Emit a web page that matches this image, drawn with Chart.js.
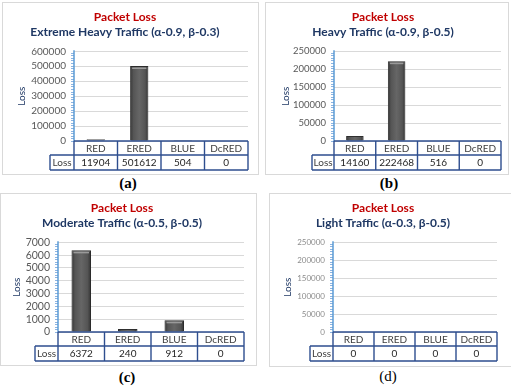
<!DOCTYPE html>
<html>
<head>
<meta charset="utf-8">
<script src="https://cdn.jsdelivr.net/npm/chart.js@4/dist/chart.umd.min.js"></script>
<style>
  body { margin:0; background:#fff; width:511px; height:389px; position:relative; overflow:hidden; }
  canvas { position:absolute; }
  .box { position:absolute; border:1px solid #d9d9d9; box-sizing:border-box; pointer-events:none; }
  .lab { position:absolute; width:60px; text-align:center; font-family:"Liberation Serif", serif; font-size:15px; color:#000; }
</style>
</head>
<body>
<div class="box" style="left:2px;top:2px;width:257px;height:173px"></div>
<div class="box" style="left:265px;top:2px;width:244px;height:173px"></div>
<div class="box" style="left:0px;top:193px;width:257px;height:173px"></div>
<div class="box" style="left:269px;top:193px;width:250px;height:174px"></div>
<canvas id="ca" width="257" height="173" style="left:2px;top:2px"></canvas>
<canvas id="cb" width="244" height="173" style="left:265px;top:2px"></canvas>
<canvas id="cc" width="257" height="173" style="left:0px;top:193px"></canvas>
<canvas id="cd" width="242" height="174" style="left:269px;top:193px"></canvas>
<div class="lab" style="left:98px;top:175px;font-weight:bold">(a)</div>
<div class="lab" style="left:359px;top:175px;font-weight:bold">(b)</div>
<div class="lab" style="left:97px;top:369px;font-weight:bold">(c)</div>
<div class="lab" style="left:358px;top:368px">(d)</div>
<script>
const categories = ["RED", "ERED", "BLUE", "DcRED"]
const lossExtreme = [11904, 501612, 504, 0]
const lossHeavy = [14160, 222468, 516, 0]
const lossModerate = [6372, 240, 912, 0]
const lossLight = [0, 0, 0, 0]
const rowLabel = "Loss"

const ticksExtreme = { max: 600000, step: 100000 }
const ticksHeavy = { max: 250000, step: 50000 }
const ticksModerate = { max: 7000, step: 1000 }
const ticksLight = { max: 250000, step: 50000 }

const FONT = "Lato"
const navy = "#1f3864"
const tableBlue = "#2e4e8f"

// bar shading + y axis ruler + data table under the plot
const decoPlugin = {
  id: "deco",
  afterDatasetsDraw(chart) {
    const ctx = chart.ctx
    chart.getDatasetMeta(0).data.forEach((bar) => {
      const h = bar.base - bar.y
      if (h < 1) return
      const x0 = bar.x - bar.width / 2
      const g = ctx.createLinearGradient(x0, 0, x0 + bar.width, 0)
      g.addColorStop(0, "#333333")
      g.addColorStop(0.18, "#555555")
      g.addColorStop(0.5, "#666666")
      g.addColorStop(0.82, "#555555")
      g.addColorStop(1, "#333333")
      ctx.save()
      ctx.fillStyle = g
      ctx.fillRect(x0 + 1, bar.y + 1, bar.width - 2, h - 1)
      if (h > 5) {
        ctx.fillStyle = "#9a9a9a"
        ctx.fillRect(x0 + 2, bar.y + 1.5, bar.width - 4, 1.5)
      }
      ctx.restore()
    })
  },
  afterDraw(chart) {
    const ctx = chart.ctx
    const a = chart.chartArea
    const opt = chart.options.plugins.deco
    // y axis ruler
    ctx.save()
    ctx.strokeStyle = "#8db4e2"
    ctx.lineWidth = 1
    ctx.beginPath()
    for (let y = a.bottom; y >= a.top - 0.5; y -= 2.6) {
      ctx.moveTo(a.left - 3, Math.round(y) + 0.5)
      ctx.lineTo(a.left, Math.round(y) + 0.5)
    }
    ctx.stroke()
    ctx.strokeStyle = "#5b9bd5"
    ctx.lineWidth = 1.5
    ctx.beginPath()
    ctx.moveTo(a.left, a.top - 1)
    ctx.lineTo(a.left, a.bottom)
    ctx.stroke()

    // table
    const n = categories.length
    const colW = (a.right - a.left) / n
    const y0 = a.bottom
    const y1 = y0 + 14
    const y2 = y0 + 29
    const lx = a.left - opt.lossW
    ctx.strokeStyle = tableBlue
    ctx.lineWidth = 1.4
    ctx.beginPath()
    ctx.moveTo(a.left, y0); ctx.lineTo(a.right, y0)
    ctx.moveTo(lx, y1); ctx.lineTo(a.right, y1)
    ctx.moveTo(lx, y2); ctx.lineTo(a.right, y2)
    ctx.moveTo(lx, y1); ctx.lineTo(lx, y2)
    for (let i = 0; i <= n; i++) {
      const x = a.left + i * colW
      ctx.moveTo(x, y0); ctx.lineTo(x, y2)
    }
    ctx.stroke()
    ctx.font = "10px " + FONT
    ctx.textAlign = "center"
    ctx.textBaseline = "middle"
    const vals = chart.data.datasets[0].data
    categories.forEach((c, i) => {
      const cx = a.left + (i + 0.5) * colW
      ctx.fillStyle = "#404040"
      ctx.fillText(c, cx, y0 + 7.5)
      ctx.fillStyle = "#262626"
      ctx.fillText(String(vals[i]), cx, y1 + 8)
    })
    ctx.fillStyle = "#404040"
    ctx.fillText(rowLabel, lx + opt.lossW / 2, y1 + 8)
    ctx.restore()
  }
}

function makeChart(id, values, sub, tk, o) {
  return new Chart(document.getElementById(id), {
    type: "bar",
    data: {
      labels: categories,
      datasets: [{
        label: rowLabel,
        data: values,
        backgroundColor: "#595959",
        borderColor: "#2b2b2b",
        borderWidth: (c) => (c.raw > 0 ? 1 : 0),
        borderSkipped: "bottom",
        barPercentage: 0.42,
        categoryPercentage: 1
      }]
    },
    options: {
      responsive: false,
      animation: false,
      layout: { padding: { left: 0, right: o.padR, top: 0, bottom: o.padB } },
      plugins: {
        legend: { display: false },
        tooltip: { enabled: false },
        title: {
          display: true,
          text: "Packet Loss",
          color: "#c00000",
          font: { family: FONT, size: 12, weight: "bold" },
          padding: { top: 8, bottom: 0.5 }
        },
        subtitle: {
          display: true,
          text: sub,
          color: navy,
          font: { family: FONT, size: o.subSize, weight: "bold" },
          padding: { top: 0.5, bottom: 11.5 }
        },
        deco: { lossW: o.lossW }
      },
      scales: {
        x: { display: false },
        y: {
          min: 0,
          max: tk.max,
          afterFit: (s) => { s.width = o.left },
          border: { display: false },
          grid: { color: "#d9d9d9", drawTicks: false },
          ticks: {
            stepSize: tk.step,
            autoSkip: false,
            padding: 8,
            color: o.tickColor,
            font: { family: FONT, size: o.tickSize },
            callback: (v) => String(v)
          },
          title: {
            display: true,
            text: rowLabel,
            color: navy,
            font: { family: FONT, size: 10 },
            padding: { top: o.titleX - 6, bottom: 0 }
          }
        }
      }
    },
    plugins: [decoPlugin]
  })
}

makeChart("ca", lossExtreme, "Extreme Heavy Traffic (\u03b1-0.9, \u03b2-0.3)", ticksExtreme,
  { left: 72, padR: 11, padB: 34, lossW: 24, titleX: 20, tickSize: 10, tickColor: "#595959", subSize: 12 })
makeChart("cb", lossHeavy, "Heavy Traffic (\u03b1-0.9, \u03b2-0.5)", ticksHeavy,
  { left: 69, padR: 8, padB: 34, lossW: 22, titleX: 21, tickSize: 9.5, tickColor: "#595959", subSize: 12 })
makeChart("cc", lossModerate, "Moderate Traffic (\u03b1-0.5, \u03b2-0.5)", ticksModerate,
  { left: 58, padR: 13, padB: 34, lossW: 23, titleX: 17, tickSize: 10.5, tickColor: "#595959", subSize: 12 })
makeChart("cd", lossLight, "Light Traffic (\u03b1-0.3, \u03b2-0.5)", ticksLight,
  { left: 64, padR: 14, padB: 35, lossW: 23, titleX: 19, tickSize: 8, tickColor: "#8c8c8c", subSize: 12 })
</script>
</body>
</html>
